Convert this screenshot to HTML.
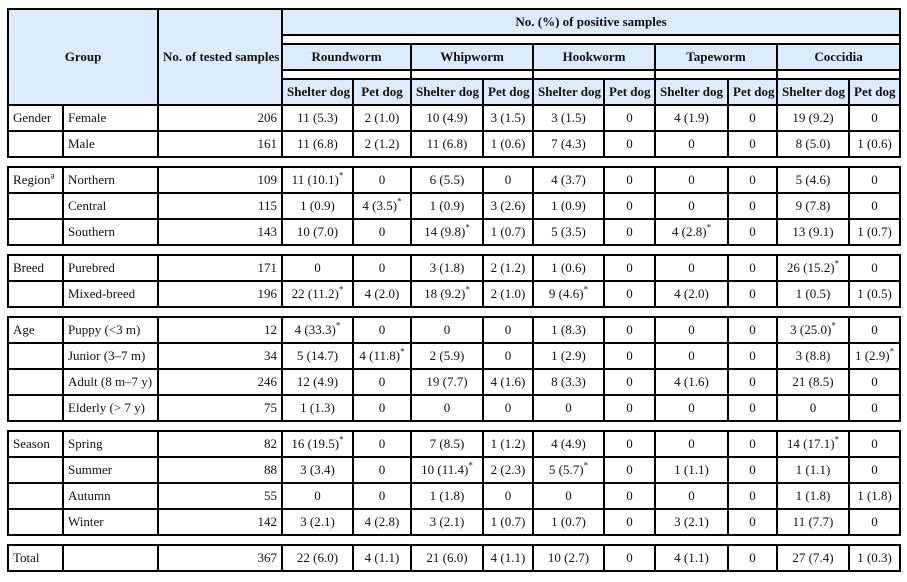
<!DOCTYPE html>
<html><head><meta charset="utf-8"><style>
body{margin:0;background:#fff;}
table{position:absolute;left:7px;top:8px;border-collapse:collapse;table-layout:fixed;width:892px;font-family:"Liberation Serif",serif;font-size:13px;color:#111;}
td,th{border:2px solid #000;padding:0 4px;height:24px;white-space:nowrap;overflow:hidden;}
th{background:#dcebfb;font-weight:bold;text-align:center;}
tr.top th{height:24px;}
td{text-align:center;}
td.l{text-align:left;}
td.r{text-align:right;}
tr.sep td{height:8px;padding:0;border-left:none;border-right:none;background:#fff;font-size:0;}
tr.hsep td{height:7px;padding:0;background:#fff;font-size:0;border-left:2px solid #000;border-right:2px solid #000;}
sup{font-size:9px;line-height:0;}
</style></head><body>
<table>
<colgroup><col style="width:55px"><col style="width:95px"><col style="width:124px"><col style="width:71px"><col style="width:58px"><col style="width:72px"><col style="width:50px"><col style="width:71px"><col style="width:51px"><col style="width:73px"><col style="width:49px"><col style="width:72px"><col style="width:51px"></colgroup>
<tr class="top"><th colspan="2" rowspan="5">Group</th><th rowspan="5">No. of tested samples</th><th colspan="10">No. (%) of positive samples</th></tr>
<tr class="hsep"><td colspan="10"></td></tr>
<tr><th colspan="2">Roundworm</th><th colspan="2">Whipworm</th><th colspan="2">Hookworm</th><th colspan="2">Tapeworm</th><th colspan="2">Coccidia</th></tr>
<tr class="hsep"><td colspan="2"></td><td colspan="2"></td><td colspan="2"></td><td colspan="2"></td><td colspan="2"></td></tr>
<tr><th>Shelter dog</th><th>Pet dog</th><th>Shelter dog</th><th>Pet dog</th><th>Shelter dog</th><th>Pet dog</th><th>Shelter dog</th><th>Pet dog</th><th>Shelter dog</th><th>Pet dog</th></tr>
<tr><td class="l">Gender</td><td class="l">Female</td><td class="r">206</td><td>11 (5.3)</td><td>2 (1.0)</td><td>10 (4.9)</td><td>3 (1.5)</td><td>3 (1.5)</td><td>0</td><td>4 (1.9)</td><td>0</td><td>19 (9.2)</td><td>0</td></tr>
<tr><td></td><td class="l">Male</td><td class="r">161</td><td>11 (6.8)</td><td>2 (1.2)</td><td>11 (6.8)</td><td>1 (0.6)</td><td>7 (4.3)</td><td>0</td><td>0</td><td>0</td><td>8 (5.0)</td><td>1 (0.6)</td></tr>
<tr class="sep"><td colspan="13"></td></tr>
<tr><td class="l">Region<sup>a</sup></td><td class="l">Northern</td><td class="r">109</td><td>11 (10.1)<sup>*</sup></td><td>0</td><td>6 (5.5)</td><td>0</td><td>4 (3.7)</td><td>0</td><td>0</td><td>0</td><td>5 (4.6)</td><td>0</td></tr>
<tr><td></td><td class="l">Central</td><td class="r">115</td><td>1 (0.9)</td><td>4 (3.5)<sup>*</sup></td><td>1 (0.9)</td><td>3 (2.6)</td><td>1 (0.9)</td><td>0</td><td>0</td><td>0</td><td>9 (7.8)</td><td>0</td></tr>
<tr><td></td><td class="l">Southern</td><td class="r">143</td><td>10 (7.0)</td><td>0</td><td>14 (9.8)<sup>*</sup></td><td>1 (0.7)</td><td>5 (3.5)</td><td>0</td><td>4 (2.8)<sup>*</sup></td><td>0</td><td>13 (9.1)</td><td>1 (0.7)</td></tr>
<tr class="sep"><td colspan="13"></td></tr>
<tr><td class="l">Breed</td><td class="l">Purebred</td><td class="r">171</td><td>0</td><td>0</td><td>3 (1.8)</td><td>2 (1.2)</td><td>1 (0.6)</td><td>0</td><td>0</td><td>0</td><td>26 (15.2)<sup>*</sup></td><td>0</td></tr>
<tr><td></td><td class="l">Mixed-breed</td><td class="r">196</td><td>22 (11.2)<sup>*</sup></td><td>4 (2.0)</td><td>18 (9.2)<sup>*</sup></td><td>2 (1.0)</td><td>9 (4.6)<sup>*</sup></td><td>0</td><td>4 (2.0)</td><td>0</td><td>1 (0.5)</td><td>1 (0.5)</td></tr>
<tr class="sep"><td colspan="13"></td></tr>
<tr><td class="l">Age</td><td class="l">Puppy (&lt;3 m)</td><td class="r">12</td><td>4 (33.3)<sup>*</sup></td><td>0</td><td>0</td><td>0</td><td>1 (8.3)</td><td>0</td><td>0</td><td>0</td><td>3 (25.0)<sup>*</sup></td><td>0</td></tr>
<tr><td></td><td class="l">Junior (3–7 m)</td><td class="r">34</td><td>5 (14.7)</td><td>4 (11.8)<sup>*</sup></td><td>2 (5.9)</td><td>0</td><td>1 (2.9)</td><td>0</td><td>0</td><td>0</td><td>3 (8.8)</td><td>1 (2.9)<sup>*</sup></td></tr>
<tr><td></td><td class="l">Adult (8 m–7 y)</td><td class="r">246</td><td>12 (4.9)</td><td>0</td><td>19 (7.7)</td><td>4 (1.6)</td><td>8 (3.3)</td><td>0</td><td>4 (1.6)</td><td>0</td><td>21 (8.5)</td><td>0</td></tr>
<tr><td></td><td class="l">Elderly (&gt; 7 y)</td><td class="r">75</td><td>1 (1.3)</td><td>0</td><td>0</td><td>0</td><td>0</td><td>0</td><td>0</td><td>0</td><td>0</td><td>0</td></tr>
<tr class="sep"><td colspan="13"></td></tr>
<tr><td class="l">Season</td><td class="l">Spring</td><td class="r">82</td><td>16 (19.5)<sup>*</sup></td><td>0</td><td>7 (8.5)</td><td>1 (1.2)</td><td>4 (4.9)</td><td>0</td><td>0</td><td>0</td><td>14 (17.1)<sup>*</sup></td><td>0</td></tr>
<tr><td></td><td class="l">Summer</td><td class="r">88</td><td>3 (3.4)</td><td>0</td><td>10 (11.4)<sup>*</sup></td><td>2 (2.3)</td><td>5 (5.7)<sup>*</sup></td><td>0</td><td>1 (1.1)</td><td>0</td><td>1 (1.1)</td><td>0</td></tr>
<tr><td></td><td class="l">Autumn</td><td class="r">55</td><td>0</td><td>0</td><td>1 (1.8)</td><td>0</td><td>0</td><td>0</td><td>0</td><td>0</td><td>1 (1.8)</td><td>1 (1.8)</td></tr>
<tr><td></td><td class="l">Winter</td><td class="r">142</td><td>3 (2.1)</td><td>4 (2.8)</td><td>3 (2.1)</td><td>1 (0.7)</td><td>1 (0.7)</td><td>0</td><td>3 (2.1)</td><td>0</td><td>11 (7.7)</td><td>0</td></tr>
<tr class="sep"><td colspan="13"></td></tr>
<tr><td class="l">Total</td><td></td><td class="r">367</td><td>22 (6.0)</td><td>4 (1.1)</td><td>21 (6.0)</td><td>4 (1.1)</td><td>10 (2.7)</td><td>0</td><td>4 (1.1)</td><td>0</td><td>27 (7.4)</td><td>1 (0.3)</td></tr>
</table>
</body></html>
